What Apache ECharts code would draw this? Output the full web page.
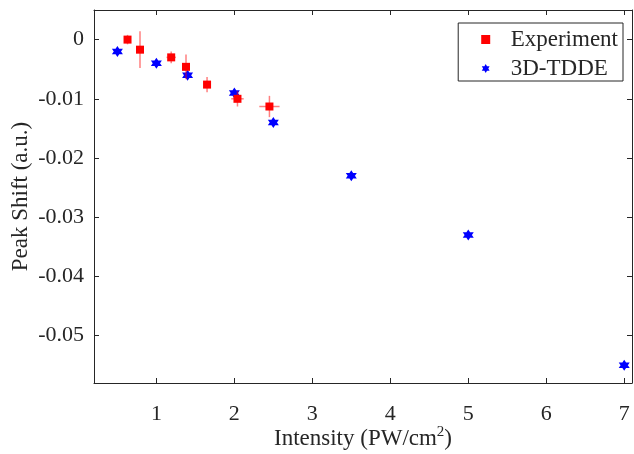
<!DOCTYPE html>
<html>
<head>
<meta charset="utf-8">
<script src="https://cdn.jsdelivr.net/npm/echarts@6/dist/echarts.min.js"></script>
<style>
  html, body { margin: 0; padding: 0; background: #fff; }
  #chart { width: 634px; height: 454px; }
</style>
</head>
<body>
<div id="chart"></div>
<script>
// experiment: intensity, peak shift and error bars
var expX = [0.63, 0.79, 1.19, 1.38, 1.65, 2.04, 2.45];
var expY = [0.0000, -0.0017, -0.0030, -0.0046, -0.0076, -0.0100, -0.0113];
var expXErr = [0.03, 0.0, 0.06, 0.02, 0.02, 0.08, 0.13];
var expYErr = [0.0008, 0.0031, 0.0010, 0.0021, 0.0013, 0.0013, 0.0018];

// 3D-TDDE simulation
var thX = [0.5, 1, 1.4, 2, 2.5, 3.5, 5, 7];
var thY = [-0.002, -0.004, -0.006, -0.009, -0.014, -0.023, -0.033, -0.055];

// tick labels
var xTicks = [1, 2, 3, 4, 5, 6, 7];
var yTicks = [0, -0.01, -0.02, -0.03, -0.04, -0.05];

var FONT = "'Liberation Serif', 'Times New Roman', serif";
var AXIS_COLOR = '#262626';
var TEXT_COLOR = '#262626';
var HEX = 'path://M0,-1 L0.866,0.5 L-0.866,0.5 Z M0,1 L-0.866,-0.5 L0.866,-0.5 Z';
var SQUARE = 'path://M0,0 L1,0 L1,1 L0,1 Z';

var expData = expX.map(function (x, i) { return [x, expY[i]]; });
var errData = expX.map(function (x, i) { return [x, expY[i], expXErr[i], expYErr[i]]; });
var thData = thX.map(function (x, i) { return [x, thY[i]]; });

function renderErr(params, api) {
    var x = api.value(0), y = api.value(1);
    var ex = api.value(2), ey = api.value(3);
    var l = api.coord([x - ex, y]), r = api.coord([x + ex, y]);
    var t = api.coord([x, y + ey]), b = api.coord([x, y - ey]);
    var style = { stroke: 'rgba(255,0,0,0.5)', lineWidth: 1.5 };
    return {
        type: 'group',
        children: [
            { type: 'line', shape: { x1: l[0], y1: l[1], x2: r[0], y2: r[1] }, style: style },
            { type: 'line', shape: { x1: t[0], y1: t[1], x2: b[0], y2: b[1] }, style: style }
        ]
    };
}

function xAxisDef(pos, labels) {
    return {
        type: 'value',
        position: pos,
        min: 0.2,
        max: 7.1,
        name: labels ? 'Intensity (PW/cm{sup|2})' : '',
        nameLocation: 'middle',
        nameGap: 42,
        nameMoveOverlap: false,
        nameTextStyle: {
            fontFamily: FONT, fontSize: 23, color: TEXT_COLOR,
            rich: { sup: { fontFamily: FONT, fontSize: 15, color: TEXT_COLOR, verticalAlign: 'top', padding: [0, 0, 12, 0] } }
        },
        axisLine: { show: true, onZero: false, lineStyle: { color: AXIS_COLOR, width: 1 } },
        axisTick: { show: true, inside: true, length: 5, customValues: xTicks, lineStyle: { color: AXIS_COLOR } },
        axisLabel: {
            show: labels, customValues: xTicks, margin: 20,
            fontFamily: FONT, fontSize: 22, color: TEXT_COLOR
        },
        splitLine: { show: false }
    };
}

function yAxisDef(pos, labels) {
    return {
        type: 'value',
        position: pos,
        min: -0.058,
        max: 0.005,
        name: labels ? 'Peak Shift (a.u.)' : '',
        nameLocation: 'middle',
        nameGap: 62,
        nameMoveOverlap: false,
        nameTextStyle: { fontFamily: FONT, fontSize: 23, color: TEXT_COLOR },
        axisLine: { show: true, onZero: false, lineStyle: { color: AXIS_COLOR, width: 1 } },
        axisTick: { show: true, inside: true, length: 5, customValues: yTicks, lineStyle: { color: AXIS_COLOR } },
        axisLabel: {
            show: labels, customValues: yTicks, margin: 10,
            fontFamily: FONT, fontSize: 22, color: TEXT_COLOR,
            formatter: function (v) { return String(Math.round(v * 100) / 100); }
        },
        splitLine: { show: false }
    };
}

var chart = echarts.init(document.getElementById('chart'));

var option = {
    animation: false,
    backgroundColor: '#fff',
    grid: { left: 94, right: 2, top: 10, bottom: 71, containLabel: false, outerBoundsMode: 'none' },
    xAxis: [xAxisDef('bottom', true), xAxisDef('top', false)],
    yAxis: [yAxisDef('left', true), yAxisDef('right', false)],
    legend: {
        data: [
            { name: 'Experiment', icon: SQUARE },
            { name: '3D-TDDE', icon: HEX }
        ],
        orient: 'vertical',
        right: 11,
        top: 23,
        itemWidth: 40,
        itemHeight: 9,
        itemGap: 6,
        padding: [5, 5, 1, 23],
        borderColor: AXIS_COLOR,
        borderWidth: 1,
        backgroundColor: '#fff',
        textStyle: { fontFamily: FONT, fontSize: 23, color: TEXT_COLOR }
    },
    series: [
        {
            name: '3D-TDDE',
            type: 'scatter',
            symbol: HEX,
            symbolSize: 11,
            itemStyle: { color: '#0000ff', opacity: 1 },
            data: thData
        },
        {
            name: 'err',
            type: 'custom',
            renderItem: renderErr,
            encode: { x: 0, y: 1 },
            data: errData,
            z: 3
        },
        {
            name: 'Experiment',
            type: 'scatter',
            symbol: 'rect',
            symbolSize: 8,
            itemStyle: { color: '#ff0000', opacity: 1 },
            data: expData,
            z: 4
        }
    ]
};

chart.setOption(option);
</script>
</body>
</html>
